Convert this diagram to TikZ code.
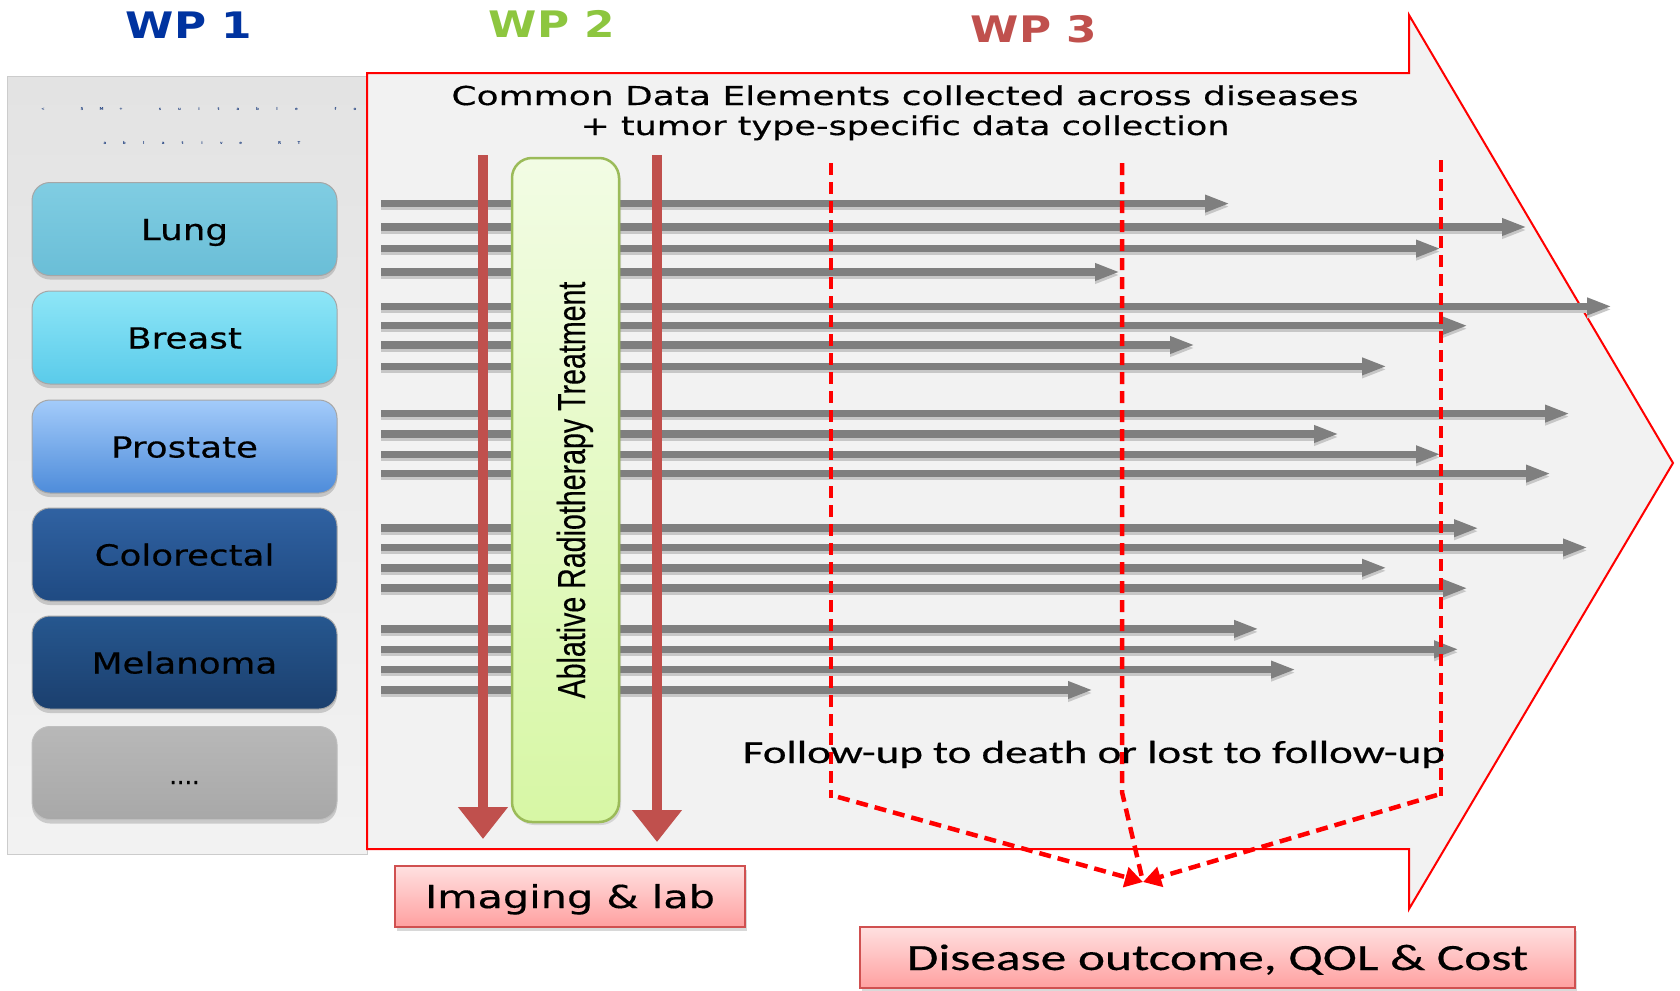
\documentclass[tikz,border=0pt]{standalone}
\usepackage{fontspec}
\usepackage{graphicx}
\usetikzlibrary{arrows.meta,shadows}
\newfontfamily\verd[FakeBold=0.4]{DejaVu Sans}
\newfontfamily\verdb{DejaVu Sans}
\newfontfamily\calib[FakeBold=0.4]{Carlito}
\newfontfamily\libs[FakeBold=0.3]{Liberation Sans}
\newcommand\fsz[1]{\fontsize{#1}{#1}\selectfont}
\definecolor{wpblue}{HTML}{0033A0}
\definecolor{wpgreen}{HTML}{8DC63F}
\definecolor{brick}{HTML}{C0504D}
\definecolor{bgarrow}{HTML}{F2F2F2}
\definecolor{grayarrow}{HTML}{7F7F7F}
\definecolor{tinyblue}{HTML}{1F3F7F}
\definecolor{greenedge}{HTML}{9BBB59}
\definecolor{greentop}{HTML}{F2FCE4}
\definecolor{greenbot}{HTML}{D7F7A5}
\definecolor{pinkedge}{HTML}{D05050}
\definecolor{pinktop}{HTML}{FFE0E0}
\definecolor{pinkbot}{HTML}{FFA0A0}
\definecolor{lungtop}{HTML}{80CDE2}
\definecolor{lungbot}{HTML}{6ABED7}
\definecolor{breasttop}{HTML}{8EE6F7}
\definecolor{breastbot}{HTML}{5ACBEA}
\definecolor{prostop}{HTML}{A3CBFA}
\definecolor{prosbot}{HTML}{4E8CDA}
\definecolor{coltop}{HTML}{3062A2}
\definecolor{colbot}{HTML}{1F4A82}
\definecolor{meltop}{HTML}{26578F}
\definecolor{melbot}{HTML}{1B3F6E}
\definecolor{moretop}{HTML}{B8B8B8}
\definecolor{morebot}{HTML}{A8A8A8}
\tikzset{
  panelbox/.style={draw=black!20, line width=0.8pt, top color=black!11, bottom color=black!5, minimum width=360pt, minimum height=778pt, inner sep=0pt},
  disease/.style={rounded corners=18pt, minimum width=305pt, minimum height=93pt, inner sep=0pt,
    draw=black!35, line width=1pt, text height=28pt, text depth=6pt,
    drop shadow={shadow xshift=0pt, shadow yshift=-4pt, opacity=0.35},
    font=\verd\fsz{29}, text=black},
  bigarrow/.style={draw=red, line width=2pt, fill=bgarrow},
  grayarr/.style={draw=grayarrow, line width=7.5pt, -{Triangle[length=25pt,width=16pt]},
    preaction={draw=black!22, line width=7.5pt, transform canvas={yshift=-3pt}, -{Triangle[length=25pt,width=16pt]}}},
  redarr/.style={draw=brick, line width=10pt, -{Triangle[length=32pt,width=48pt]}},
  greenbox/.style={draw=greenedge, line width=2.5pt, rounded corners=20pt, top color=greentop, bottom color=greenbot,
    minimum width=107pt, minimum height=664pt, inner sep=0pt,
    drop shadow={shadow xshift=2pt, shadow yshift=-3pt, opacity=0.25}},
  reddash/.style={draw=red, line width=4.5pt, dash pattern=on 12pt off 7pt},
  pinkbox/.style={draw=pinkedge, line width=2pt, top color=pinktop, bottom color=pinkbot, inner sep=0pt,
    drop shadow={shadow xshift=2pt, shadow yshift=-4pt, opacity=0.3}},
  wplabel/.style={anchor=base, font=\verdb\bfseries\fsz{36.5}},
  tinychar/.style={font=\verdb\bfseries\fsz{4}, text=tinyblue, inner sep=0pt},
}
\begin{document}
\begin{tikzpicture}[x=1pt,y=-1pt]
\useasboundingbox (0,0) rectangle (1680,990);
\fill[white] (0,0) rectangle (1680,990);

% WP labels
\node[wplabel, text=wpblue] (wp1) at (189,38.3) {\scalebox{1.2}[1]{WP 1}};
\node[wplabel, text=wpgreen] (wp2) at (552,37.5) {\scalebox{1.2}[1]{WP 2}};
\node[wplabel, text=brick] (wp3) at (1034,43) {\scalebox{1.2}[1]{WP 3}};

% WP1 panel
\node[panelbox] (panel) at (187,465) {};
\foreach \i/\c in {0/<,2/5,3/M,4/+,6/s,7/u,8/i,9/t,10/a,11/b,12/l,13/e,15/f,16/o,17/r}
  \node[tinychar] (ta\i) at (43+\i*19.5,109) {\c};
\foreach \i/\c in {0/a,1/b,2/l,3/a,4/t,5/i,6/v,7/e,9/R,10/T}
  \node[tinychar] (tb\i) at (105+\i*19.4,143) {\c};

% disease boxes
\node[disease, top color=lungtop, bottom color=lungbot] (lung) at (184.5,229) {\scalebox{1.23}[1]{Lung}};
\node[disease, top color=breasttop, bottom color=breastbot] (breast) at (184.5,337.5) {\scalebox{1.23}[1]{Breast}};
\node[disease, top color=prostop, bottom color=prosbot] (prostate) at (184.5,446.5) {\scalebox{1.23}[1]{Prostate}};
\node[disease, top color=coltop, bottom color=colbot] (colorectal) at (184.5,554.5) {\scalebox{1.23}[1]{Colorectal}};
\node[disease, top color=meltop, bottom color=melbot] (melanoma) at (184.5,662.5) {\scalebox{1.23}[1]{Melanoma}};
\node[disease, top color=moretop, bottom color=morebot, draw=black!25] (more) at (184.5,773) {\fsz{24}....};

% big arrow
\draw[bigarrow] (367,73) -- (1409,73) -- (1409,15) -- (1673,463) -- (1409,909) -- (1409,849) -- (367,849) -- cycle;

% top text
\node[anchor=base, font=\verd\fsz{26}] (top1) at (905,105) {\scalebox{1.385}[1]{Common Data Elements collected across diseases}};
\node[anchor=base, font=\verd\fsz{26}] (top2) at (905,135) {\scalebox{1.345}[1]{+ tumor type-specific data collection}};

% gray arrows
\foreach \yy/\xe [count=\i] in {203.6/1230, 227/1527, 248.6/1441, 272/1120, 306.4/1612, 325.7/1468, 345/1195, 366.4/1387, 413.6/1570, 434/1339, 454.3/1441, 473.6/1551, 528.2/1479, 547.5/1588, 567.8/1387, 588.2/1468, 628.9/1259, 649.3/1459, 669.6/1296, 690/1093}
{
  \coordinate (gs\i) at (381,\yy);
  \coordinate (ge\i) at (\xe,\yy);
  \draw[grayarr] (gs\i) -- (ge\i);
}

% red dashed follow-up lines
\coordinate (v1t) at (831,163); \coordinate (v1b) at (831,798);
\coordinate (v2t) at (1122,163); \coordinate (v2b) at (1122,792);
\coordinate (v3t) at (1441,160); \coordinate (v3b) at (1441,796);
\coordinate (d1s) at (838,797); \coordinate (d3s) at (1437,795);
\coordinate (conv) at (1143,882);
\draw[reddash] (v1t) -- (v1b);
\draw[reddash] (v3t) -- (v3b);
\draw[reddash] (v2t) -- (v2b) -- (conv);
\draw[reddash, -{Triangle[length=18pt,width=20pt]}] (d1s) -- (conv);
\draw[reddash, -{Triangle[length=18pt,width=20pt]}] (d3s) -- (conv);

% red vertical arrows
\coordinate (ia1s) at (483,155); \coordinate (ia1e) at (483,839);
\coordinate (ia2s) at (657,155); \coordinate (ia2e) at (657,842);
\draw[redarr] (ia1s) -- (ia1e);
\draw[redarr] (ia2s) -- (ia2e);

% treatment box
\node[greenbox] (abl) at (565.5,490) {};
\node[rotate=90, anchor=base, font=\libs\fsz{39}, inner sep=0pt] (abltext) at (585,490) {\scalebox{0.733}[1]{Ablative Radiotherapy Treatment}};

% follow-up text
\node[anchor=base, font=\calib\fsz{32}] (follow) at (1094,763) {\scalebox{1.406}[1]{Follow-up to death or lost to follow-up}};

% bottom boxes
\node[pinkbox, minimum width=350pt, minimum height=61pt, text height=30pt, text depth=7pt, font=\verd\fsz{31.6}] (imaging) at (570,896.5) {\scalebox{1.31}[1]{Imaging \& lab}};
\node[pinkbox, minimum width=715pt, minimum height=61pt, text height=32pt, text depth=7pt, font=\calib\fsz{37}] (outcome) at (1217.5,957.5) {\scalebox{1.39}[1]{Disease outcome, QOL \& Cost}};
\end{tikzpicture}
\end{document}
